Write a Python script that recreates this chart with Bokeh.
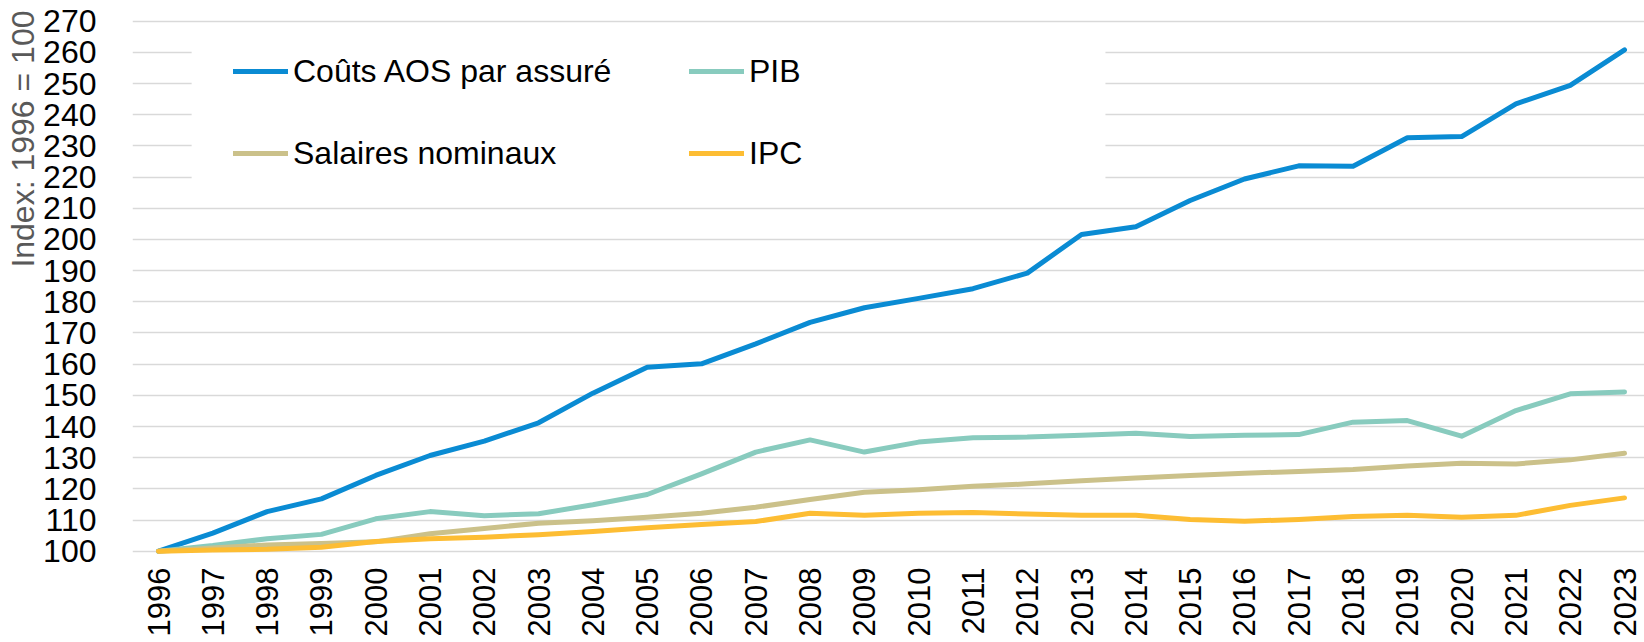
import math
from bokeh.plotting import figure
from bokeh.models import (Range1d, FixedTicker, Legend, LegendItem, Title,
                          BoxAnnotation, ColumnDataSource)
from bokeh.embed import file_html
from bokeh.resources import INLINE

years = list(range(1996, 2024))
aos = [100.0, 105.8, 112.7, 116.8, 124.3, 130.7, 135.3, 141.2, 150.7, 159.0,
       160.1, 166.5, 173.4, 178.1, 181.1, 184.2, 189.2, 201.6, 204.1, 212.5,
       219.4, 223.6, 223.5, 232.6, 233.0, 243.5, 249.4, 260.8]
pib = [100.0, 101.8, 104.0, 105.4, 110.4, 112.7, 111.4, 112.0, 114.9, 118.2,
       124.8, 131.8, 135.7, 131.8, 135.0, 136.4, 136.6, 137.2, 137.8, 136.8,
       137.2, 137.4, 141.4, 141.9, 136.9, 145.1, 150.5, 151.1]
salaires = [100.0, 101.0, 102.0, 102.5, 103.0, 105.6, 107.3, 109.0, 109.8, 110.9,
            112.2, 114.1, 116.6, 118.9, 119.7, 120.8, 121.6, 122.6, 123.5, 124.3,
            125.0, 125.6, 126.2, 127.3, 128.2, 128.0, 129.3, 131.4]
ipc = [100.0, 100.4, 100.6, 101.3, 103.1, 104.0, 104.5, 105.3, 106.3, 107.5,
       108.6, 109.5, 112.2, 111.5, 112.2, 112.4, 111.9, 111.5, 111.5, 110.2,
       109.6, 110.2, 111.1, 111.5, 110.9, 111.5, 114.7, 117.1]

series_names = ["Coûts AOS par assuré", "PIB", "Salaires nominaux", "IPC"]
series_values = [aos, pib, salaires, ipc]
series_colors = ["#0A8BD3", "#88CBBE", "#CBC18A", "#FDBD33"]
legend_order = [0, 2, 1, 3]   # two columns, filled column by column
y_ticks = list(range(100, 271, 10))
y_axis_title = "Index: 1996 = 100"

FONT = "Liberation Sans"

p = figure(width=1644, height=642, output_backend="svg", toolbar_location=None,
           x_range=Range1d(1995.521, 2023.368), y_range=Range1d(97.66, 270.87),
           min_border_left=132, min_border_top=18, min_border_right=0,
           min_border_bottom=84)
p.outline_line_color = None
p.background_fill_color = "white"
p.border_fill_color = "white"

# grid
p.xgrid.grid_line_color = None
p.ygrid.ticker = FixedTicker(ticks=y_ticks)
p.ygrid.grid_line_color = "#D9D9D9"
p.ygrid.grid_line_width = 1.5

# y axis
p.yaxis.ticker = FixedTicker(ticks=y_ticks)
p.yaxis.axis_line_color = None
p.yaxis.major_tick_line_color = None
p.yaxis.minor_tick_line_color = None
p.yaxis.major_label_text_font = FONT
p.yaxis.major_label_text_font_size = "32px"
p.yaxis.major_label_text_color = "black"
p.yaxis.major_label_standoff = 30

# x axis
p.xaxis.ticker = FixedTicker(ticks=years)
p.xaxis.axis_line_color = None
p.xaxis.major_tick_line_color = None
p.xaxis.minor_tick_line_color = None
p.xaxis.major_label_orientation = math.pi / 2
p.xaxis.major_label_text_font = FONT
p.xaxis.major_label_text_font_size = "31px"
p.xaxis.major_label_text_color = "black"
p.xaxis.major_label_standoff = 3

# y axis title placed toward the top, as in the reference
p.add_layout(Title(text=y_axis_title, align="right", text_font=FONT,
                   text_font_size="32px", text_font_style="normal",
                   text_color="#595959", standoff=0, offset=-8), "left")

renderers = []
for name, vals, col in zip(series_names, series_values, series_colors):
    src = ColumnDataSource(dict(x=years, y=vals))
    r = p.line("x", "y", source=src, line_color=col, line_width=5,
               line_cap="round", line_join="round")
    renderers.append(r)

# white backing of the legend area (hides the gridlines, as in the reference)
p.add_layout(BoxAnnotation(left=1996.61, right=2013.44, bottom=215.7, top=265.0,
                           fill_color="white", fill_alpha=1.0, line_color=None))

items = [LegendItem(label=series_names[i], renderers=[renderers[i]]) for i in legend_order]
legend = Legend(items=items, location=(101, 386), ncols=2,
                label_text_font=FONT, label_text_font_size="32px",
                label_text_color="black", glyph_width=55, glyph_height=38,
                label_height=38, label_width=352, label_standoff=5,
                spacing=44, padding=0, margin=0,
                border_line_color=None, background_fill_alpha=0)
p.add_layout(legend)

open("out.html", "w").write(file_html(p, INLINE))
